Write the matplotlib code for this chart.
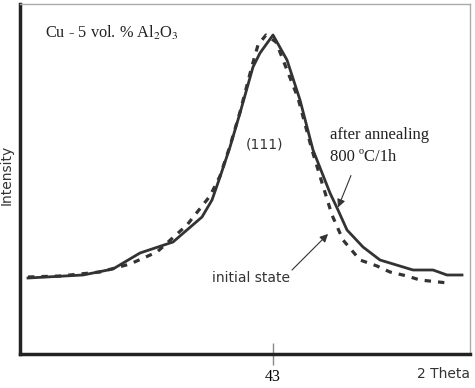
import numpy as np
import matplotlib.pyplot as plt

plt.rcParams['mathtext.fontset'] = 'stix'

# after annealing 800 C / 1h (solid)
annealed_2theta = [40.55, 41.10, 41.40, 41.67, 42.00, 42.29, 42.39, 42.47, 42.57, 42.67, 42.80,
                   42.87, 43.00, 43.14, 43.27, 43.40, 43.57, 43.65, 43.74, 43.90, 44.07, 44.40,
                   44.60, 44.74, 44.89]
annealed_int = [76, 79, 85, 101, 112, 137, 154, 177, 207, 241, 287,
                301, 319, 294, 254, 204, 161, 144, 124, 107, 94, 84,
                84, 79, 79]

# initial state (dashed)
initial_2theta = [40.55, 40.87, 41.27, 41.57, 41.84, 42.14, 42.37, 42.47, 42.57, 42.67, 42.79,
                  42.85, 42.93, 43.03, 43.14, 43.25, 43.39, 43.50, 43.59, 43.70, 43.87, 44.04,
                  44.17, 44.34, 44.47, 44.75]
initial_int = [77, 78, 82, 90, 102, 129, 158, 178, 208, 242, 288,
               309, 319, 312, 284, 256, 204, 168, 139, 114, 94, 88,
               82, 78, 74, 71]

fig = plt.figure(figsize=(4.75, 3.88), dpi=100)
ax = fig.add_axes([20 / 475, 34 / 388, 450 / 475, 350 / 388])

ax.plot(annealed_2theta, annealed_int, color='#333333', lw=2)
ax.plot(initial_2theta, initial_int, color='#333333', lw=2.3, ls=(0, (2.0, 2.2)))

ax.set_xlim(40.47, 44.97)
ax.set_ylim(0, 350)

for s in ['left', 'bottom']:
    ax.spines[s].set_linewidth(2.5)
    ax.spines[s].set_color('#222222')
for s in ['top', 'right']:
    ax.spines[s].set_linewidth(1)
    ax.spines[s].set_color('#aaaaaa')

serif = 'Liberation Serif'
ax.set_yticks([])
ax.set_xticks([43])
ax.set_xticklabels(['43'], family=serif, fontsize=11.5)
ax.tick_params(axis='x', direction='inout', length=16, width=1, color='#888888', pad=3)

ax.text(40.72, 321, 'Cu - 5 vol. % Al$_2$O$_3$', family=serif, fontsize=11.8, va='center',
        color='#222222')
ax.text(42.91, 209, '(111)', fontsize=10, ha='center', va='center', color='#333333')
ax.text(43.57, 219, 'after annealing', family=serif, fontsize=12, va='center', color='#222222')
ax.text(43.57, 197, '800 \u00baC/1h', family=serif, fontsize=12, va='center', color='#222222')
ax.text(42.78, 76, 'initial state', fontsize=10, ha='center', va='center', color='#333333')

ax.annotate('', xy=(43.64, 144), xytext=(43.79, 181),
            arrowprops=dict(arrowstyle='-|>', color='#333333', lw=0.8, mutation_scale=12))
ax.annotate('', xy=(43.57, 122), xytext=(43.17, 82),
            arrowprops=dict(arrowstyle='-|>', color='#333333', lw=0.8, mutation_scale=12))

fig.text(470 / 475, 1 - 374 / 388, '2 Theta', ha='right', va='center', fontsize=10, color='#333333')
fig.text(7 / 475, 1 - 175 / 388, 'Intensity', rotation=90, ha='center', va='center', fontsize=10,
         color='#333333')

fig.savefig('out.png', dpi=100)
